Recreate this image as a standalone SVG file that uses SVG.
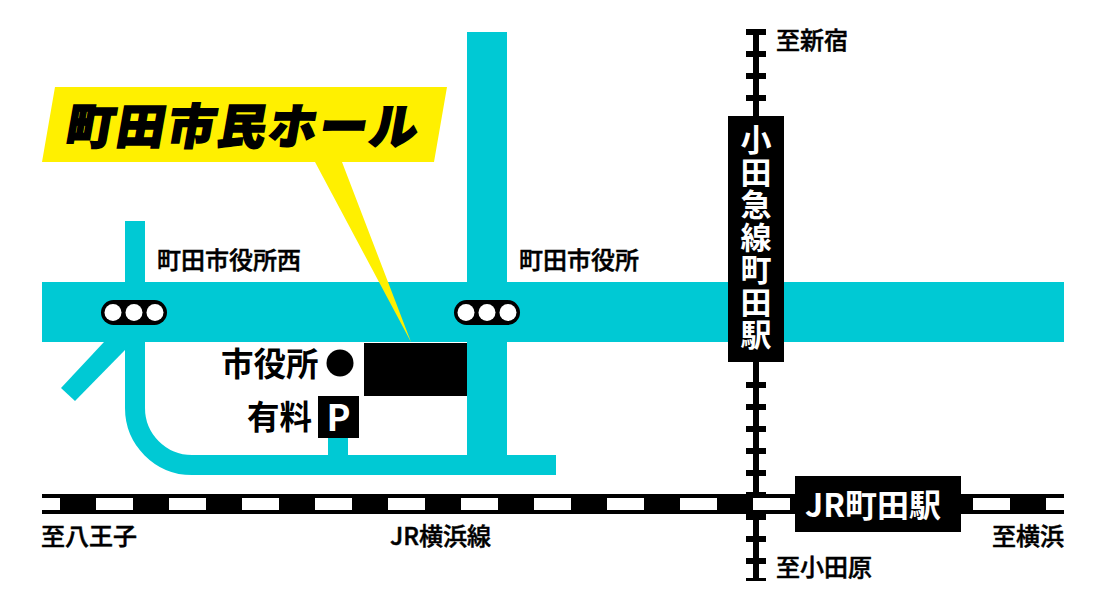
<svg xmlns="http://www.w3.org/2000/svg" width="1113" height="601" viewBox="0 0 1113 601">
<style>
text{font-family:"Noto Sans CJK JP","Noto Sans",sans-serif;fill:#000}
.road{fill:#00c9d4}
.rs{fill:none;stroke:#00c9d4;stroke-width:20}
.lbl{font-size:24px;font-weight:500;stroke:#000;stroke-width:.5px}
.big{font-size:32.500px;font-weight:700}
.w{fill:#fff}
.k{fill:#000}
.sig{fill:#000}
</style>
<rect width="1113" height="601" fill="#fff"/>
<g id="connectors">
  <g id="roads">
    <rect class="road" x="42" y="282" width="1022" height="60"/>
    <rect class="road" x="467" y="32" width="40" height="438"/>
    <path class="rs" d="M135 221V408A57 57 0 0 0 192 465H556"/>
    <polygon class="road" points="61,388 75,401 125,350 125,342 104,342"/>
    <rect class="road" x="328" y="436" width="20" height="24"/>
  </g>
  <g id="odakyu-line">
    <rect class="k" x="753" y="29" width="6" height="552"/>
    <path class="k" d="M746 29h20v6h-20zM746 51h20v6h-20zM746 73h20v6h-20zM746 95h20v6h-20zM746 382h20v6h-20zM746 404h20v6h-20zM746 426h20v6h-20zM746 448h20v6h-20zM746 470h20v6h-20zM746 492h20v6h-20zM746 514h20v6h-20zM746 536h20v6h-20zM746 558h20v6h-20zM746 578h20v3h-20z"/>
  </g>
  <g id="jr-line">
    <rect class="k" x="42" y="494" width="1022" height="20"/>
    <path class="w" d="M42 498h18v12h-18zM96 498h37v12h-37zM169 498h37v12h-37zM242 498h37v12h-37zM315 498h37v12h-37zM388 498h37v12h-37zM461 498h37v12h-37zM534 498h37v12h-37zM607 498h37v12h-37zM680 498h37v12h-37zM753 498h37v12h-37zM973 498h37v12h-37zM1046 498h18v12h-18z"/>
  </g>
</g>
<g id="callout">
  <polygon fill="#fff000" points="55,87 447,87 434,162 342,162 411,342 315,162 42,162"/>
  <text transform="translate(64 143.500) skewX(-10)" font-size="48" font-weight="900" stroke="#000" stroke-width="1.600" style="letter-spacing:2.600px">町田市民ホール</text>
</g>
<g id="signal-west">
  <rect class="sig" x="101" y="300" width="66" height="25" rx="12.5"/>
  <circle class="w" cx="113" cy="312.5" r="8.5"/><circle class="w" cx="134" cy="312.5" r="8.5"/><circle class="w" cx="155" cy="312.5" r="8.5"/>
</g>
<g id="signal-cityhall">
  <rect class="sig" x="454" y="300" width="66" height="25" rx="12.5"/>
  <circle class="w" cx="466" cy="312.5" r="8.5"/><circle class="w" cx="487" cy="312.5" r="8.5"/><circle class="w" cx="508" cy="312.5" r="8.5"/>
</g>
<g id="hall-building"><rect class="k" x="364" y="343" width="103" height="53"/></g>
<g id="cityhall">
  <circle class="k" cx="340" cy="363" r="13.5"/>
  <text class="big" x="221" y="376">市役所</text>
</g>
<g id="parking">
  <rect class="k" x="318" y="396" width="41" height="42"/>
  <text x="338.500" y="431" font-size="36" font-weight="700" text-anchor="middle" style="fill:#fff">P</text>
  <text class="big" x="247" y="429">有料</text>
</g>
<g id="odakyu-station">
  <rect class="k" x="728" y="116" width="56" height="246"/>
  <text x="756" y="124" font-size="31" font-weight="700" style="fill:#fff;writing-mode:vertical-rl;letter-spacing:1.5px">小田急線町田駅</text>
</g>
<g id="jr-station">
  <rect class="k" x="795" y="476" width="166" height="56"/>
  <text x="873" y="517" font-size="32" font-weight="700" text-anchor="middle" style="fill:#fff">JR町田駅</text>
</g>
<g id="labels">
  <text class="lbl" x="157" y="269">町田市役所西</text>
  <text class="lbl" x="519" y="269">町田市役所</text>
  <text class="lbl" x="776" y="49">至新宿</text>
  <text class="lbl" x="776" y="576">至小田原</text>
  <text class="lbl" x="41" y="545">至八王子</text>
  <text class="lbl" x="390" y="545">JR横浜線</text>
  <text class="lbl" x="992" y="545">至横浜</text>
</g>
</svg>
